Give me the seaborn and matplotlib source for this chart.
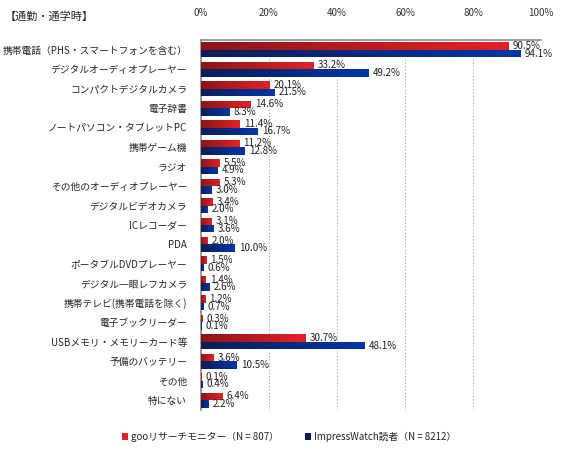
import pandas as pd
import numpy as np
import matplotlib
matplotlib.use('Agg')
import matplotlib.pyplot as plt
from matplotlib.colors import LinearSegmentedColormap
from matplotlib.patches import Patch
import seaborn as sns

# dane
categories = [
    '携帯電話（PHS・スマートフォンを含む）',
    'デジタルオーディオプレーヤー',
    'コンパクトデジタルカメラ',
    '電子辞書',
    'ノートパソコン・タブレットPC',
    '携帯ゲーム機',
    'ラジオ',
    'その他のオーディオプレーヤー',
    'デジタルビデオカメラ',
    'ICレコーダー',
    'PDA',
    'ポータブルDVDプレーヤー',
    'デジタル一眼レフカメラ',
    '携帯テレビ(携帯電話を除く)',
    '電子ブックリーダー',
    'USBメモリ・メモリーカード等',
    '予備のバッテリー',
    'その他',
    '特にない',
]
goo_values = [90.5, 33.2, 20.1, 14.6, 11.4, 11.2, 5.5, 5.3, 3.4, 3.1,
              2.0, 1.5, 1.4, 1.2, 0.3, 30.7, 3.6, 0.1, 6.4]
impress_values = [94.1, 49.2, 21.5, 8.3, 16.7, 12.8, 4.9, 3.0, 2.0, 3.6,
                  10.0, 0.6, 2.6, 0.7, 0.1, 48.1, 10.5, 0.4, 2.2]
series_names = ['gooリサーチモニター（N = 807）', 'ImpressWatch読者（N = 8212）']
x_ticks = [0, 20, 40, 60, 80, 100]

df = pd.DataFrame({
    'category': categories * 2,
    'value': goo_values + impress_values,
    'series': [series_names[0]] * len(categories) + [series_names[1]] * len(categories),
})

sns.set_style('white')
plt.rcParams['font.family'] = ['Noto Sans CJK JP', 'DejaVu Sans']

red_dark, red_light = '#8a1618', '#e42226'
blue_dark, blue_light = '#0b1d58', '#0036a6'
palette = {series_names[0]: red_light, series_names[1]: blue_light}

fig = plt.figure(figsize=(5.69, 4.55), dpi=100)
ax = fig.add_axes([0.3533, 0.099, 0.5975, 0.813])

sns.barplot(data=df, x='value', y='category', hue='series', orient='h',
            palette=palette, width=0.77, legend=False, ax=ax)

# gradient na słupkach
cmaps = [LinearSegmentedColormap.from_list('r', [red_dark, red_light]),
         LinearSegmentedColormap.from_list('b', [blue_dark, blue_light])]
grad = np.linspace(0, 1, 256).reshape(1, -1)
for cont, cmap in zip(ax.containers, cmaps):
    for p in cont.patches:
        x0, y0, w, h = p.get_x(), p.get_y(), p.get_width(), p.get_height()
        if w <= 0:
            continue
        im = ax.imshow(grad, cmap=cmap, aspect='auto',
                       extent=[x0, x0 + w, y0 + h, y0], zorder=3)
        im.set_clip_path(p)

for cont in ax.containers:
    ax.bar_label(cont, fmt='%.1f%%', padding=3, fontsize=7, color='#222222',
                 zorder=5)

ax.set_xlim(0, 100)
ax.set_ylim(len(categories) - 0.5, -0.5)
ax.set_xticks(x_ticks)
ax.set_xticklabels([f'{t}%' for t in x_ticks], fontsize=7, color='#333333')
ax.xaxis.tick_top()
ax.tick_params(axis='x', length=0, pad=16)
ax.tick_params(axis='y', length=0, pad=10, labelsize=7)
ax.set_xlabel('')
ax.set_ylabel('')
ax.grid(axis='x', linestyle=(0, (1, 2)), color='#a0a0a0', linewidth=0.8)
ax.set_axisbelow(True)
for s in ['right', 'bottom']:
    ax.spines[s].set_visible(False)
for s in ['top', 'left']:
    ax.spines[s].set_color('#8c8c8c')
    ax.spines[s].set_linewidth(1.2)

fig.text(0.008, 0.975, '【通勤・通学時】', fontsize=8, va='top', ha='left')

handles = [Patch(facecolor=red_light, edgecolor='none'),
           Patch(facecolor=blue_dark, edgecolor='none')]
fig.legend(handles, series_names, loc='center', bbox_to_anchor=(0.508, 0.04),
           ncol=2, frameon=False, fontsize=7, handlelength=0.7, handleheight=0.7,
           handletextpad=0.3, columnspacing=2.6)

plt.savefig('out.png', dpi=100)
